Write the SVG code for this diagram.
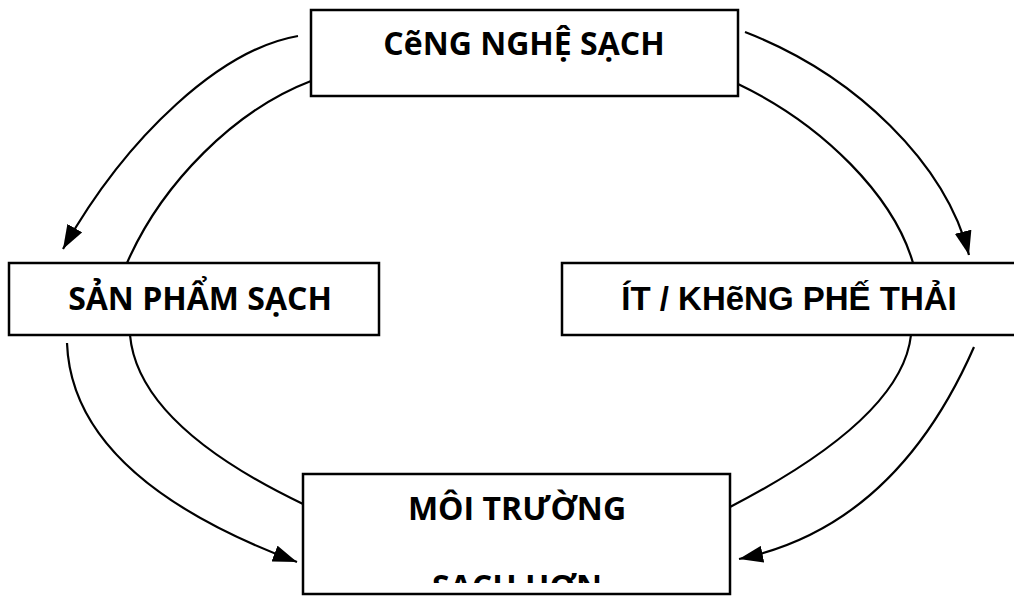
<svg xmlns="http://www.w3.org/2000/svg" width="1014" height="597" viewBox="0 0 1014 597">
<style>
.box{fill:#fff;stroke:#000;stroke-width:2.5}
.conn{fill:none;stroke:#000;stroke-width:2.2}
.cal{font-family:"Open Sans","Liberation Sans",sans-serif;font-weight:bold;font-size:32px;fill:#000;text-anchor:middle}
.ari{font-family:"Liberation Sans",Arial,sans-serif;font-weight:bold;font-size:33px;fill:#000;text-anchor:middle}
</style>
<defs>
<marker id="arr" markerUnits="userSpaceOnUse" markerWidth="24" markerHeight="17" refX="24" refY="8.5" orient="auto">
<path d="M0,0 L24,8.5 L0,17 z" fill="#000"/>
</marker>
<clipPath id="clipB"><rect x="303" y="474" width="427" height="109"/></clipPath>
</defs>
<g id="connectors">
<path class="conn" d="M298,36 C222,49 128,134 63,249" marker-end="url(#arr)"/>
<path class="conn" d="M311,81 C235,110 162,183 127,263"/>
<path class="conn" d="M745,32 C856,75 946,164 969,255" marker-end="url(#arr)"/>
<path class="conn" d="M738,84 C824,125 894,197 913,263"/>
<path class="conn" d="M67,343 Q72,478 297,562" marker-end="url(#arr)"/>
<path class="conn" d="M130,335 Q138,425 303,504"/>
<path class="conn" d="M911,335 Q902,418 730,507"/>
<path class="conn" d="M974,347 Q895,527 739,559" marker-end="url(#arr)"/>
</g>
<g id="node-cong-nghe-sach">
<rect class="box" x="311" y="10" width="427" height="86"/>
<text class="cal" x="524" y="55">CẽNG NGHỆ SẠCH</text>
</g>
<g id="node-san-pham-sach">
<rect class="box" x="9" y="263" width="370" height="72"/>
<text class="cal" x="200" y="310">SẢN PHẨM SẠCH</text>
</g>
<g id="node-it-phe-thai">
<rect class="box" x="562" y="263" width="470" height="72"/>
<text class="ari" x="789" y="310">ÍT / KHẽNG PHẾ THẢI</text>
</g>
<g id="node-moi-truong">
<rect class="box" x="303" y="474" width="427" height="120"/>
<g clip-path="url(#clipB)">
<text class="cal" x="517" y="520">MÔI TRƯỜNG</text>
<text class="cal" x="517" y="598">SẠCH HƠN</text>
</g>
</g>
</svg>
